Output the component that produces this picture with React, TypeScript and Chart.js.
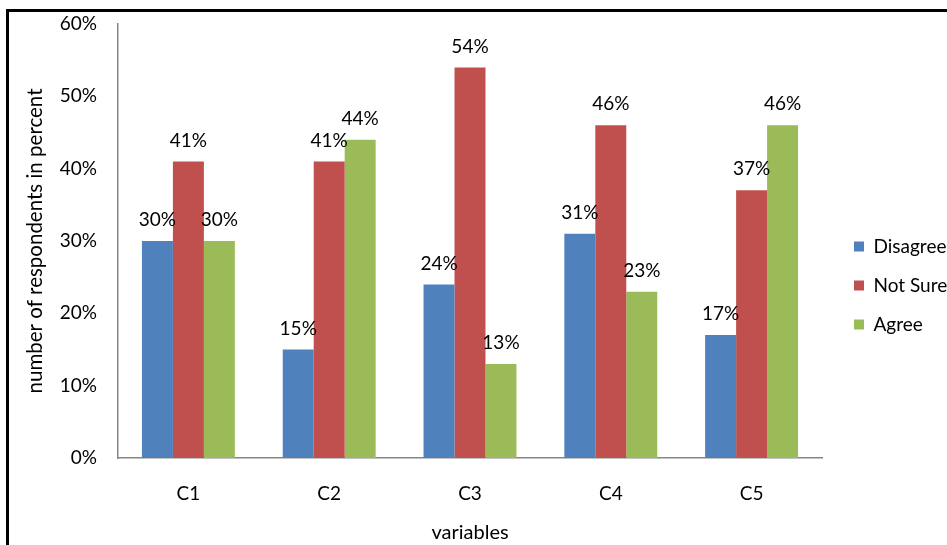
import React, { useEffect, useRef } from "react";
import { Chart, registerables } from "chart.js";

Chart.register(...registerables);

// Survey responses per variable, in percent
const categories = ["C1", "C2", "C3", "C4", "C5"];
const disagree = [30, 15, 24, 31, 17];
const notSure = [41, 41, 54, 46, 37];
const agree = [30, 44, 13, 23, 46];
const yTickValues = [0, 10, 20, 30, 40, 50, 60];

const FAMILY = "Lato, 'Open Sans', sans-serif";
const FONT_SIZE = 19;
const TEXT = "#000000";
const AXIS_LINE = "#868686";

// Percentage labels above each bar
const valueLabels = {
  id: "valueLabels",
  afterDatasetsDraw(chart: any) {
    const ctx = chart.ctx;
    ctx.save();
    ctx.font = `${FONT_SIZE}px ${FAMILY}`;
    ctx.fillStyle = TEXT;
    ctx.textAlign = "center";
    ctx.textBaseline = "middle";
    chart.data.datasets.forEach((ds: any, i: number) => {
      const meta = chart.getDatasetMeta(i);
      meta.data.forEach((el: any, j: number) => {
        ctx.fillText(`${ds.data[j]}%`, el.x, el.y - 21);
      });
    });
    ctx.restore();
  },
};

// Places the legend box at a fixed spot to the right of the plot
const legendAnchor = {
  id: "legendAnchor",
  afterLayout(chart: any, _args: any, opts: any) {
    const lg = chart.legend;
    if (!lg) return;
    const w = lg.width;
    const h = lg.height;
    lg.left = opts.x;
    lg.right = opts.x + w + 20;
    lg.top = opts.y;
    lg.bottom = opts.y + h;
  },
};

export default function App() {
  const canvasRef = useRef<HTMLCanvasElement | null>(null);

  useEffect(() => {
    const canvas = canvasRef.current;
    if (!canvas) return;
    const font = { family: FAMILY, size: FONT_SIZE };
    const chart = new Chart(canvas, {
      type: "bar",
      data: {
        labels: categories,
        datasets: [
          { label: "Disagree", data: disagree, backgroundColor: "#4F81BD", borderWidth: 0 },
          { label: "Not Sure", data: notSure, backgroundColor: "#C0504D", borderWidth: 0 },
          { label: "Agree", data: agree, backgroundColor: "#9BBB59", borderWidth: 0 },
        ],
      },
      options: {
        responsive: false,
        animation: false,
        devicePixelRatio: 1,
        datasets: { bar: { categoryPercentage: 0.66, barPercentage: 1 } },
        layout: { padding: { top: 24, right: 125, bottom: 0, left: 0 } },
        scales: {
          x: {
            grid: { display: false, drawTicks: false },
            border: { display: true, color: AXIS_LINE, width: 1.5 },
            ticks: { padding: 24, font, color: TEXT },
            title: {
              display: true,
              text: "variables",
              font: { family: FAMILY, size: 20 },
              color: TEXT,
              padding: { top: 0, bottom: 0 },
            },
            afterFit(scale: any) {
              scale.height = 87;
            },
          },
          y: {
            min: 0,
            max: 60,
            grid: { display: false, drawTicks: false },
            border: { display: true, color: AXIS_LINE, width: 1.5 },
            afterBuildTicks(scale: any) {
              scale.ticks = yTickValues.map((v) => ({ value: v }));
            },
            ticks: {
              padding: 21,
              font,
              color: TEXT,
              callback: (v: any) => `${v}%`,
            },
            title: {
              display: true,
              text: "number of respondents in percent",
              font: { family: FAMILY, size: 20.5 },
              color: TEXT,
              padding: { top: 23, bottom: 0 },
            },
            afterFit(scale: any) {
              scale.width = 118;
              // the plot top is set by the layout padding alone
              scale.paddingTop = 0;
              scale.paddingBottom = 0;
            },
          },
        },
        plugins: {
          legend: {
            position: "chartArea",
            align: "start",
            labels: {
              boxWidth: 10,
              boxHeight: 10,
              padding: 20,
              font,
              color: TEXT,
            },
          },
          tooltip: { enabled: false },
          legendAnchor: { x: 834, y: 217 },
        } as any,
      },
      plugins: [valueLabels, legendAnchor],
    });
    return () => chart.destroy();
  }, []);

  return (
    <div style={{ position: "fixed", left: 0, top: 0, width: 947, height: 545, overflow: "hidden", background: "#fff" }}>
      <div
        style={{
          position: "absolute",
          left: 6,
          top: 9,
          width: 1200,
          height: 800,
          borderTop: "3px solid #000",
          borderLeft: "3px solid #000",
        }}
      />
      <canvas ref={canvasRef} width={947} height={545} style={{ position: "absolute", left: 0, top: 0 }} />
    </div>
  );
}
